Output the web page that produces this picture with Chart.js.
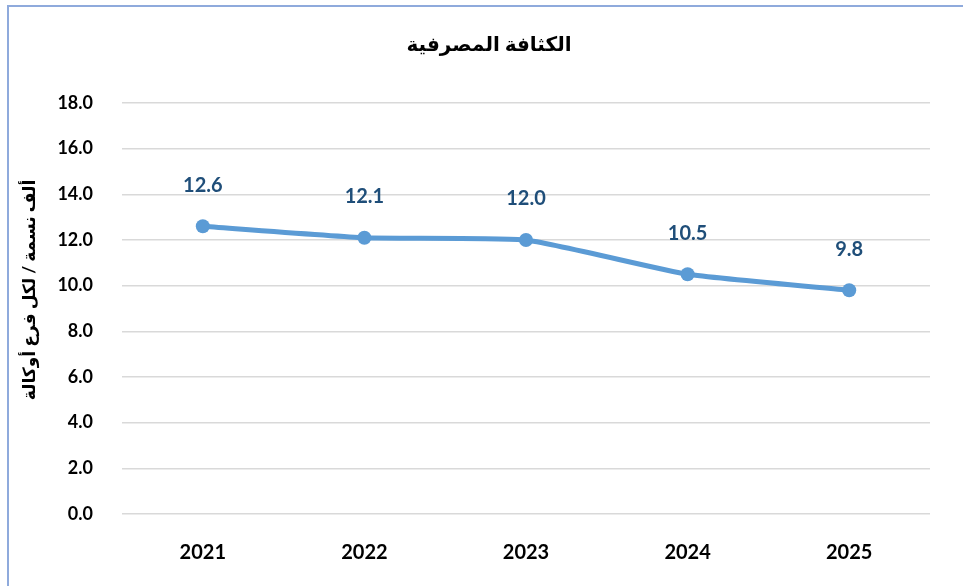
<!DOCTYPE html>
<html>
<head>
<meta charset="utf-8">
<script src="https://cdn.jsdelivr.net/npm/chart.js@4"></script>
<style>
  html, body { margin: 0; padding: 0; background: #ffffff; overflow: hidden; }
  #wrap { position: relative; width: 963px; height: 586px; }
  #frame { position: absolute; left: 7px; top: 5px; width: 1000px; height: 700px;
           border-top: 2px solid #8faadc; border-left: 2px solid #8faadc; pointer-events: none; }
  canvas { position: absolute; left: 0; top: 0; }
</style>
</head>
<body>
<div id="wrap">
  <canvas id="c" width="963" height="586"></canvas>
  <div id="frame"></div>
</div>
<script>
const chartTitle = "الكثافة المصرفية";
const yAxisTitle = "ألف نسمة / لكل فرع أوكالة";
const years = ["2021", "2022", "2023", "2024", "2025"];
const density = [12.6, 12.1, 12.0, 10.5, 9.8];
const yMin = 0, yMax = 18, yStep = 2;

const FONT = "Lato, 'Open Sans', 'DejaVu Sans', sans-serif";

const extraText = {
  id: 'extraText',
  afterDraw(chart) {
    const ctx = chart.ctx;
    ctx.save();
    // chart title
    ctx.font = "bold 20px " + FONT;
    ctx.fillStyle = "#000000";
    ctx.textAlign = "center";
    ctx.textBaseline = "middle";
    ctx.fillText(chartTitle, 489, 45);
    // y axis title
    ctx.translate(30, 290);
    ctx.rotate(-Math.PI / 2);
    ctx.font = "bold 17px " + FONT;
    ctx.fillText(yAxisTitle, 0, 0);
    ctx.restore();
  },
  afterDatasetsDraw(chart) {
    const ctx = chart.ctx;
    const meta = chart.getDatasetMeta(0);
    ctx.save();
    ctx.font = "bold 20px " + FONT;
    ctx.fillStyle = "#1f4e79";
    ctx.textAlign = "center";
    ctx.textBaseline = "middle";
    meta.data.forEach((pt, i) => {
      ctx.fillText(density[i].toFixed(1), pt.x, pt.y - 41);
    });
    ctx.restore();
  }
};

new Chart(document.getElementById('c'), {
  type: 'line',
  data: {
    labels: years,
    datasets: [{
      data: density,
      borderColor: '#5b9bd5',
      backgroundColor: '#5b9bd5',
      borderWidth: 5,
      pointRadius: 7,
      pointHoverRadius: 7,
      pointBackgroundColor: '#5b9bd5',
      pointBorderWidth: 0,
      tension: 0.15,
      fill: false
    }]
  },
  options: {
    responsive: false,
    animation: false,
    devicePixelRatio: 1,
    layout: { padding: { top: 103, left: 12, right: 33, bottom: 25 } },
    plugins: {
      legend: { display: false },
      tooltip: { enabled: false },
      title: { display: false }
    },
    scales: {
      x: {
        offset: true,
        afterFit(scale) { scale.height = 47; },
        grid: { display: false, drawTicks: false },
        border: { display: false },
        ticks: {
          color: '#000000',
          padding: 27,
          font: { family: FONT, size: 20, weight: 'bold' }
        }
      },
      y: {
        min: yMin,
        max: yMax,
        afterFit(scale) { scale.width = 110; },
        grid: { color: '#d9d9d9', lineWidth: 1.5, drawTicks: false },
        border: { display: false },
        ticks: {
          stepSize: yStep,
          color: '#000000',
          padding: 29,
          font: { family: FONT, size: 18, weight: 'bold' },
          callback: v => Number(v).toFixed(1)
        }
      }
    }
  },
  plugins: [extraText]
});
</script>
</body>
</html>
